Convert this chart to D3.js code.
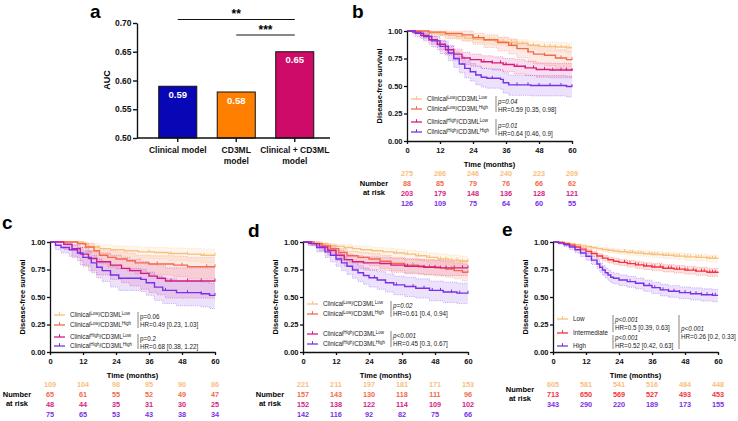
<!DOCTYPE html>
<html>
<head>
<meta charset="utf-8">
<script src="https://cdn.jsdelivr.net/npm/d3@7"></script>
<style>
  body { margin: 0; background: #fff; }
  svg { font-family: "Liberation Sans", Arial, sans-serif; }
</style>
</head>
<body>
<svg id="fig" width="738" height="421"></svg>
<script>
// ---- panel a: AUC bars ----
const aucModels = [['Clinical model'], ['CD3ML', 'model'], ['Clinical + CD3ML', 'model']];
const aucValues = [0.59, 0.58, 0.65];
const aucTicks = [0.50, 0.55, 0.60, 0.65, 0.70];
const aucSig = [[0, 2, '**'], [1, 2, '***']];

// ---- KM panels: [time, survival, lower CI, upper CI] ----
const timeTicks = [0, 12, 24, 36, 48, 60];
const survTicks = [0, 0.25, 0.5, 0.75, 1];
const groups4 = [['Low', 'Low'], ['Low', 'High'], ['High', 'Low'], ['High', 'High']];
const riskGroups3 = ['Low', 'Intermediate', 'High'];

const bLL = [[0,1,1,1],[3,0.996,0.99,1],[6,0.99,0.975,1],[9,0.982,0.965,0.995],[12,0.97,0.95,0.985],[15,0.96,0.935,0.98],[18,0.95,0.925,0.975],[21,0.935,0.905,0.96],[24,0.925,0.895,0.955],[28,0.915,0.88,0.945],[32,0.905,0.87,0.94],[36,0.895,0.855,0.93],[40,0.885,0.845,0.92],[44,0.87,0.83,0.91],[48,0.86,0.815,0.9],[54,0.855,0.81,0.895],[58,0.848,0.8,0.89],[60,0.848,0.8,0.89]];
const bLH = [[0,1,1,1],[8,0.99,0.96,1],[14,0.977,0.93,1],[20,0.965,0.91,1],[24,0.94,0.88,0.98],[28,0.92,0.85,0.965],[33,0.895,0.82,0.945],[37,0.87,0.79,0.925],[40,0.84,0.755,0.9],[44,0.81,0.72,0.875],[46,0.79,0.7,0.86],[50,0.78,0.685,0.85],[54,0.755,0.655,0.83],[58,0.74,0.64,0.82],[60,0.74,0.64,0.82]];
const bHL = [[0,1,1,1],[2,0.99,0.975,1],[5,0.96,0.93,0.98],[8,0.92,0.88,0.95],[11,0.88,0.83,0.915],[14,0.83,0.78,0.87],[17,0.79,0.735,0.835],[20,0.755,0.695,0.805],[23,0.74,0.68,0.79],[27,0.72,0.66,0.775],[31,0.71,0.645,0.765],[35,0.695,0.63,0.75],[39,0.68,0.61,0.74],[43,0.665,0.595,0.725],[47,0.65,0.58,0.71],[52,0.645,0.575,0.705],[60,0.64,0.565,0.7]];
const bHH = [[0,1,1,1],[3,0.98,0.95,1],[6,0.95,0.91,0.98],[9,0.91,0.855,0.95],[12,0.86,0.795,0.91],[15,0.8,0.73,0.86],[17,0.75,0.67,0.81],[19,0.7,0.62,0.77],[21,0.66,0.575,0.73],[23,0.63,0.545,0.705],[25,0.6,0.51,0.68],[27,0.58,0.49,0.66],[29,0.57,0.48,0.655],[34,0.56,0.47,0.645],[35,0.53,0.435,0.62],[37,0.51,0.415,0.6],[45,0.505,0.41,0.595],[58,0.495,0.4,0.59],[60,0.495,0.4,0.59]];
const bCens = [[30,33,35,38,40,42,44,46,48,50,52,54,56,58,59],[26,38,44,50,56,60],[28,31,34,36,40,43,46,50,53,56,58,60],[31,40,44,48,52,56,60]];
const bRisk = [[275,266,246,240,223,209],[88,85,79,76,66,62],[203,179,148,136,128,121],[126,109,75,64,60,55]];
const bStats = [['p=0.04', 'HR=0.59 [0.35, 0.98]'], ['p=0.01', 'HR=0.64 [0.46, 0.9]']];

const cLL = [[0,1,1,1],[10,1,1,1],[12,0.98,0.95,1],[14,0.955,0.91,0.985],[18,0.94,0.89,0.975],[22,0.93,0.875,0.965],[27,0.92,0.865,0.96],[32,0.91,0.85,0.955],[38,0.905,0.845,0.95],[43,0.895,0.83,0.945],[50,0.89,0.825,0.94],[55,0.88,0.81,0.935],[60,0.88,0.81,0.935]];
const cLH = [[0,1,1,1],[10,0.985,0.95,1],[13,0.955,0.9,0.99],[16,0.92,0.85,0.965],[18,0.88,0.8,0.94],[21,0.86,0.77,0.92],[24,0.845,0.755,0.91],[28,0.83,0.735,0.9],[31,0.81,0.71,0.88],[36,0.8,0.7,0.875],[45,0.79,0.685,0.87],[50,0.775,0.665,0.86],[60,0.775,0.665,0.86]];
const cHL = [[0,1,1,1],[5,0.98,0.93,1],[8,0.94,0.86,0.98],[11,0.89,0.79,0.95],[14,0.85,0.74,0.92],[17,0.82,0.7,0.9],[22,0.79,0.66,0.88],[26,0.76,0.63,0.86],[29,0.74,0.6,0.845],[33,0.715,0.57,0.825],[36,0.69,0.54,0.8],[39,0.67,0.52,0.785],[42,0.645,0.49,0.765],[60,0.645,0.49,0.765]];
const cHH = [[0,1,1,1],[2,0.97,0.93,1],[4,0.95,0.9,0.98],[7,0.93,0.87,0.97],[10,0.9,0.83,0.95],[12,0.86,0.78,0.92],[15,0.81,0.72,0.88],[17,0.77,0.675,0.845],[19,0.74,0.64,0.82],[22,0.7,0.59,0.785],[25,0.67,0.56,0.76],[33,0.66,0.55,0.75],[35,0.63,0.515,0.725],[38,0.59,0.47,0.69],[41,0.56,0.44,0.665],[46,0.54,0.42,0.645],[55,0.53,0.41,0.635],[58,0.515,0.395,0.625],[60,0.515,0.395,0.625]];
const cCens = [[36,44,50,56,60],[39,48,57,60],[44,50,55,60],[33,42,50,55,60]];
const cRisk = [[109,104,98,95,90,86],[65,61,55,52,49,47],[48,44,35,31,30,25],[75,65,53,43,38,34]];
const cStats = [['p=0.06', 'HR=0.49 [0.23, 1.03]'], ['p=0.2', 'HR=0.68 [0.38, 1.22]']];

const dLL = [[0,1,1,1],[3,0.995,0.985,1],[6,0.985,0.97,0.995],[9,0.97,0.95,0.985],[12,0.96,0.935,0.98],[15,0.95,0.92,0.975],[18,0.94,0.91,0.965],[21,0.93,0.895,0.96],[25,0.92,0.88,0.95],[29,0.91,0.87,0.945],[33,0.9,0.855,0.935],[37,0.89,0.845,0.925],[41,0.875,0.83,0.915],[45,0.86,0.81,0.9],[49,0.845,0.795,0.89],[53,0.835,0.785,0.88],[57,0.825,0.77,0.87],[60,0.825,0.77,0.87]];
const dLH = [[0,1,1,1],[4,0.985,0.965,1],[7,0.965,0.93,0.985],[10,0.94,0.9,0.965],[13,0.905,0.855,0.94],[16,0.875,0.82,0.915],[20,0.86,0.8,0.905],[24,0.845,0.785,0.895],[28,0.825,0.76,0.88],[32,0.805,0.74,0.86],[37,0.79,0.72,0.85],[42,0.775,0.705,0.84],[48,0.765,0.69,0.83],[52,0.755,0.68,0.82],[55,0.74,0.665,0.81],[58,0.725,0.645,0.8],[60,0.725,0.645,0.8]];
const dHL = [[0,1,1,1],[3,0.985,0.965,1],[6,0.955,0.92,0.98],[9,0.925,0.88,0.96],[12,0.88,0.83,0.925],[15,0.84,0.78,0.89],[18,0.82,0.76,0.875],[22,0.81,0.745,0.865],[28,0.805,0.74,0.86],[32,0.79,0.725,0.85],[37,0.78,0.71,0.84],[44,0.77,0.7,0.835],[50,0.765,0.695,0.83],[60,0.765,0.695,0.83]];
const dHH = [[0,1,1,1],[2,0.985,0.965,1],[5,0.95,0.91,0.975],[8,0.91,0.86,0.945],[10,0.88,0.82,0.92],[12,0.845,0.78,0.895],[14,0.81,0.74,0.865],[16,0.78,0.705,0.84],[18,0.745,0.67,0.81],[20,0.72,0.64,0.785],[22,0.695,0.615,0.765],[24,0.675,0.59,0.745],[27,0.655,0.57,0.73],[30,0.63,0.545,0.71],[33,0.61,0.52,0.69],[37,0.595,0.505,0.68],[41,0.58,0.49,0.665],[46,0.56,0.465,0.645],[51,0.545,0.45,0.635],[56,0.535,0.44,0.625],[60,0.535,0.44,0.625]];
const dCens = [[34,38,42,46,50,52,54,56,58,60],[40,46,50,54,58,60],[38,44,48,52,55,58,60],[26,34,40,44,47,50,54,57,60]];
const dRisk = [[221,211,197,181,171,153],[157,143,130,118,111,96],[152,138,122,114,109,102],[142,116,92,82,75,66]];
const dStats = [['p=0.02', 'HR=0.61 [0.4, 0.94]'], ['p<0.001', 'HR=0.45 [0.3, 0.67]']];

const eLow = [[0,1,1,1],[2,0.997,0.992,1],[4,0.99,0.983,0.997],[6,0.982,0.972,0.99],[8,0.975,0.962,0.985],[10,0.965,0.95,0.977],[12,0.957,0.94,0.97],[14,0.948,0.93,0.963],[16,0.94,0.92,0.956],[18,0.932,0.912,0.95],[20,0.925,0.903,0.944],[22,0.918,0.895,0.938],[24,0.912,0.888,0.932],[27,0.905,0.88,0.927],[30,0.899,0.873,0.922],[33,0.893,0.866,0.917],[36,0.887,0.86,0.912],[40,0.879,0.85,0.905],[44,0.872,0.843,0.899],[48,0.865,0.835,0.893],[52,0.86,0.829,0.888],[56,0.852,0.82,0.882],[60,0.85,0.817,0.88]];
const eInt = [[0,1,1,1],[2,0.995,0.99,1],[4,0.985,0.976,0.993],[6,0.972,0.96,0.983],[8,0.955,0.94,0.968],[10,0.935,0.917,0.951],[12,0.915,0.894,0.933],[14,0.895,0.872,0.915],[16,0.873,0.848,0.895],[18,0.853,0.827,0.877],[20,0.838,0.81,0.863],[22,0.825,0.797,0.851],[24,0.815,0.786,0.842],[27,0.803,0.773,0.831],[30,0.792,0.761,0.821],[33,0.782,0.75,0.812],[36,0.773,0.74,0.804],[40,0.762,0.728,0.794],[44,0.753,0.718,0.786],[48,0.744,0.708,0.778],[52,0.735,0.698,0.77],[56,0.725,0.687,0.761],[60,0.718,0.68,0.755]];
const eHigh = [[0,1,1,1],[2,0.99,0.98,1],[4,0.975,0.958,0.988],[6,0.955,0.932,0.972],[8,0.93,0.902,0.952],[10,0.9,0.868,0.926],[12,0.87,0.834,0.9],[14,0.835,0.795,0.869],[16,0.8,0.757,0.838],[17,0.77,0.725,0.81],[18,0.745,0.698,0.786],[19,0.72,0.672,0.763],[20,0.7,0.651,0.744],[21,0.68,0.63,0.725],[22,0.67,0.62,0.715],[24,0.655,0.604,0.701],[27,0.64,0.589,0.686],[30,0.625,0.573,0.672],[33,0.605,0.552,0.653],[36,0.585,0.531,0.634],[39,0.565,0.51,0.615],[42,0.552,0.497,0.603],[46,0.54,0.484,0.592],[50,0.53,0.473,0.583],[54,0.52,0.463,0.574],[58,0.515,0.457,0.569],[60,0.515,0.457,0.569]];
const eCens = [
  [26,28,29,31,32,33,35,36,37,38,40,41,42,44,45,46,48,49,50,52,53,54,56,57,58,59],
  [26,28,30,31,33,34,36,37,39,40,42,43,45,46,48,49,51,52,54,55,57,58,59],
  [28,30,33,35,37,40,42,44,46,48,50,52,54,56,58,59]
];
const eRisk = [[605,581,541,516,484,448],[713,650,569,527,493,453],[343,290,220,189,173,155]];
const eStats = [['p<0.001', 'HR=0.5 [0.39, 0.63]'], ['p<0.001', 'HR=0.52 [0.42, 0.63]'], ['p<0.001', 'HR=0.26 [0.2, 0.33]']];

const colLL = '#f7c07c', colLH = '#f26a4a', colHL = '#d51c82', colHH = '#7a30e6', colInt = '#f2343c';

const svg = d3.select('#fig');

const panelLetter = (txt, x, y) => svg.append('text').text(txt)
  .attr('x', x).attr('y', y).attr('font-size', 19).attr('font-weight', 'bold');

// ---------------- panel a ----------------
{
  const yA = d3.scaleLinear().domain([0.5, 0.7]).range([138, 23]);
  const xA = d3.scaleBand().domain(d3.range(aucValues.length))
    .range([148.5, 324]).paddingInner(0.35).paddingOuter(0.175);
  const aucColors = ['#0707b5', '#ff8000', '#cf0b68'];
  const g = svg.append('g');

  g.selectAll('rect').data(aucValues).enter().append('rect')
    .attr('x', (d, i) => xA(i))
    .attr('y', (d) => yA(d))
    .attr('width', xA.bandwidth())
    .attr('height', (d) => yA(0.5) - yA(d))
    .attr('fill', (d, i) => aucColors[i])
    .attr('stroke', '#111').attr('stroke-width', 1);

  g.selectAll('text.val').data(aucValues).enter().append('text')
    .attr('class', 'val')
    .text((d) => d.toFixed(2))
    .attr('x', (d, i) => xA(i) + xA.bandwidth() / 2)
    .attr('y', (d) => yA(d) + 11.5)
    .attr('text-anchor', 'middle').attr('fill', '#fff')
    .attr('font-weight', 'bold').attr('font-size', 9.5);

  const yAx = g.append('g').attr('transform', 'translate(137,0)')
    .call(d3.axisLeft(yA).tickValues(aucTicks).tickFormat(d3.format('.2f')).tickSize(4).tickPadding(1.5).tickSizeOuter(0));
  yAx.selectAll('text').attr('font-size', 8.5).attr('font-weight', 'bold').attr('font-family', null).attr('fill', '#111');
  yAx.selectAll('line,path').attr('stroke', '#111').attr('stroke-width', 1.4);

  const xAxisG = g.append('g');
  xAxisG.append('line').attr('x1', 137).attr('x2', 330).attr('y1', yA(0.5)).attr('y2', yA(0.5))
    .attr('stroke', '#111').attr('stroke-width', 1.4);
  aucModels.forEach((lines, i) => {
    const cx = xA(i) + xA.bandwidth() / 2;
    xAxisG.append('line').attr('x1', cx).attr('x2', cx).attr('y1', yA(0.5)).attr('y2', yA(0.5) + 4)
      .attr('stroke', '#111').attr('stroke-width', 1.4);
    lines.forEach((ln, j) => {
      xAxisG.append('text').text(ln).attr('x', cx).attr('y', 153 + j * 10.5)
        .attr('text-anchor', 'middle').attr('font-size', 8.5).attr('font-weight', 'bold').attr('fill', '#111');
    });
  });

  g.append('text').text('AUC')
    .attr('transform', 'translate(110,80) rotate(-90)')
    .attr('text-anchor', 'middle').attr('font-size', 9).attr('font-weight', 'bold');

  aucSig.forEach(([i1, i2, stars], k) => {
    const x1 = xA(i1) + xA.bandwidth() / 2;
    const x2 = xA(i2) + xA.bandwidth() / 2;
    const yy = 19.5 + k * 15.5;
    g.append('line').attr('x1', x1).attr('x2', x2).attr('y1', yy).attr('y2', yy)
      .attr('stroke', '#111').attr('stroke-width', 1);
    g.append('text').text(stars).attr('x', (x1 + x2) / 2).attr('y', yy - 1.5)
      .attr('text-anchor', 'middle').attr('font-size', 12).attr('font-weight', 'bold');
  });
  panelLetter('a', 90, 18);
}

// ---------------- KM helper ----------------
function clinicalLabel(sel, pair) {
  sel.append('tspan').text('Clinical');
  sel.append('tspan').text(pair[0]).attr('font-size', 4.5).attr('dy', -2.3);
  sel.append('tspan').text('/CD3ML').attr('dy', 2.3);
  sel.append('tspan').text(pair[1]).attr('font-size', 4.5).attr('dy', -2.3);
}

function drawKM(cfg) {
  const g = svg.append('g');
  const x = d3.scaleLinear().domain([0, 60]).range([cfg.x0, cfg.x0 + 165]);
  const y = d3.scaleLinear().domain([0, 1]).range([cfg.yTop + 110, cfg.yTop]);
  const yBot = cfg.yTop + 110;

  const band = d3.area().curve(d3.curveStepAfter)
    .x((d) => x(d[0])).y0((d) => y(d[2])).y1((d) => y(d[3]));
  cfg.curves.forEach((c) => {
    g.append('path').datum(c.data).attr('d', band)
      .attr('fill', c.color).attr('fill-opacity', 0.14);
  });
  cfg.curves.forEach((c) => {
    [2, 3].forEach((k) => {
      g.append('path').datum(c.data)
        .attr('d', d3.line().curve(d3.curveStepAfter).x((d) => x(d[0])).y((d) => y(d[k])))
        .attr('fill', 'none').attr('stroke', c.color).attr('stroke-width', 0.7)
        .attr('stroke-dasharray', '1,1.2').attr('stroke-opacity', 0.55);
    });
  });

  const stepAt = (data, t) => {
    let s = 1;
    for (const d of data) if (d[0] <= t) s = d[1];
    return s;
  };
  cfg.curves.forEach((c) => {
    g.append('path').datum(c.data)
      .attr('d', d3.line().curve(d3.curveStepAfter).x((d) => x(d[0])).y((d) => y(d[1])))
      .attr('fill', 'none').attr('stroke', c.color).attr('stroke-width', 1.4);
    g.selectAll(null).data(c.cens).enter().append('line')
      .attr('x1', (t) => x(t)).attr('x2', (t) => x(t))
      .attr('y1', (t) => y(stepAt(c.data, t)) - 2.5)
      .attr('y2', (t) => y(stepAt(c.data, t)) + 0.5)
      .attr('stroke', c.color).attr('stroke-width', 1);
  });

  // axes
  const yAx = g.append('g').attr('transform', `translate(${cfg.x0},0)`)
    .call(d3.axisLeft(y).tickValues(survTicks).tickFormat(d3.format('.2f')).tickSize(3).tickPadding(1.5).tickSizeOuter(0));
  const xAx = g.append('g').attr('transform', `translate(0,${yBot})`)
    .call(d3.axisBottom(x).tickValues(timeTicks).tickSize(3).tickPadding(3.5).tickSizeOuter(0));
  [yAx, xAx].forEach((ax) => {
    ax.selectAll('text').attr('font-size', 7.5).attr('font-weight', 'bold').attr('font-family', null).attr('fill', '#111');
    ax.selectAll('line,path').attr('stroke', '#111').attr('stroke-width', 1.3);
  });

  g.append('text').text('Disease-free survival')
    .attr('transform', `translate(${cfg.x0 - 25},${cfg.yTop + 55}) rotate(-90)`)
    .attr('text-anchor', 'middle').attr('font-size', 7.5).attr('font-weight', 'bold');
  g.append('text').text('Time (months)')
    .attr('x', x(30)).attr('y', yBot + 25.5)
    .attr('text-anchor', 'middle').attr('font-size', 7.5).attr('font-weight', 'bold');

  // number at risk
  cfg.risk.forEach((row, i) => {
    g.selectAll(null).data(row).enter().append('text')
      .text((d) => d)
      .attr('x', (d, j) => x(timeTicks[j]))
      .attr('y', yBot + 34.5 + i * 10.3)
      .attr('text-anchor', 'middle').attr('font-size', 7.3).attr('font-weight', 'bold')
      .attr('fill', cfg.curves[i].color);
  });
  const nrY = cfg.risk.length === 4 ? yBot + 44.5 : yBot + 40;
  ['Number', 'at risk'].forEach((t, i) => {
    g.append('text').text(t).attr('x', cfg.x0 - 33).attr('y', nrY + i * 9)
      .attr('text-anchor', 'middle').attr('font-size', 7.5).attr('font-weight', 'bold');
  });

  // legend
  cfg.curves.forEach((c, i) => {
    const ly = cfg.yTop + cfg.legendY[i];
    const lx = cfg.x0 + 4;
    g.append('line').attr('x1', lx).attr('x2', lx + 11).attr('y1', ly).attr('y2', ly)
      .attr('stroke', c.color).attr('stroke-width', 1.3);
    g.append('line').attr('x1', lx + 5.5).attr('x2', lx + 5.5).attr('y1', ly - 2.8).attr('y2', ly)
      .attr('stroke', c.color).attr('stroke-width', 1);
    const t = g.append('text').attr('x', cfg.x0 + 20).attr('y', ly + 2.3)
      .attr('font-size', 6.3).attr('fill', '#222');
    if (c.pair) clinicalLabel(t, c.pair); else t.text(c.name);
  });
  cfg.brackets.forEach((b, k) => {
    const bx = cfg.x0 + b.dx;
    g.append('line').attr('x1', bx).attr('x2', bx)
      .attr('y1', cfg.yTop + b.y0).attr('y2', cfg.yTop + b.y1)
      .attr('stroke', '#777').attr('stroke-width', 0.9);
    g.append('text').text(cfg.stats[k][0]).attr('x', bx + 2).attr('y', cfg.yTop + b.py)
      .attr('font-size', 6.3).attr('font-style', cfg.italic ? 'italic' : null).attr('fill', '#222');
    g.append('text').text(cfg.stats[k][1]).attr('x', bx + 2).attr('y', cfg.yTop + b.py + 8)
      .attr('font-size', 6.3).attr('fill', '#222');
  });
}

const mk4 = (arrs, cens) => [colLL, colLH, colHL, colHH].map((col, i) => ({
  color: col, data: arrs[i], cens: cens[i], pair: groups4[i],
}));

// ---------------- panel b ----------------
drawKM({
  x0: 407, yTop: 31,
  curves: mk4([bLL, bLH, bHL, bHH], bCens),
  risk: bRisk, stats: bStats, italic: true,
  legendY: [68, 78, 91, 101],
  brackets: [{ dx: 89, y0: 65, y1: 81, py: 72.5 }, { dx: 89, y0: 88, y1: 104, py: 97 }],
});
panelLetter('b', 352, 18);

// ---------------- panel c ----------------
drawKM({
  x0: 50, yTop: 242,
  curves: mk4([cLL, cLH, cHL, cHH], cCens),
  risk: cRisk, stats: cStats, italic: false,
  legendY: [73, 83, 95, 104],
  brackets: [{ dx: 88, y0: 70, y1: 86, py: 77 }, { dx: 88, y0: 92, y1: 107, py: 98.5 }],
});
panelLetter('c', 2, 229);

// ---------------- panel d ----------------
drawKM({
  x0: 303, yTop: 242,
  curves: mk4([dLL, dLH, dHL, dHH], dCens),
  risk: dRisk, stats: dStats, italic: true,
  legendY: [62, 72, 92, 102],
  brackets: [{ dx: 88, y0: 59, y1: 75, py: 66 }, { dx: 88, y0: 89, y1: 105, py: 96 }],
});
panelLetter('d', 248, 237);

// ---------------- panel e ----------------
drawKM({
  x0: 553, yTop: 242,
  curves: [colLL, colInt, colHH].map((col, i) => ({
    color: col, data: [eLow, eInt, eHigh][i], cens: eCens[i], name: riskGroups3[i],
  })),
  risk: eRisk, stats: eStats, italic: true,
  legendY: [77, 91, 104],
  brackets: [
    { dx: 60, y0: 73, y1: 90, py: 79.5 },
    { dx: 60, y0: 93, y1: 107, py: 97.5 },
    { dx: 126, y0: 73, y1: 107, py: 88.5 },
  ],
});
panelLetter('e', 502, 236);
</script>
</body>
</html>
